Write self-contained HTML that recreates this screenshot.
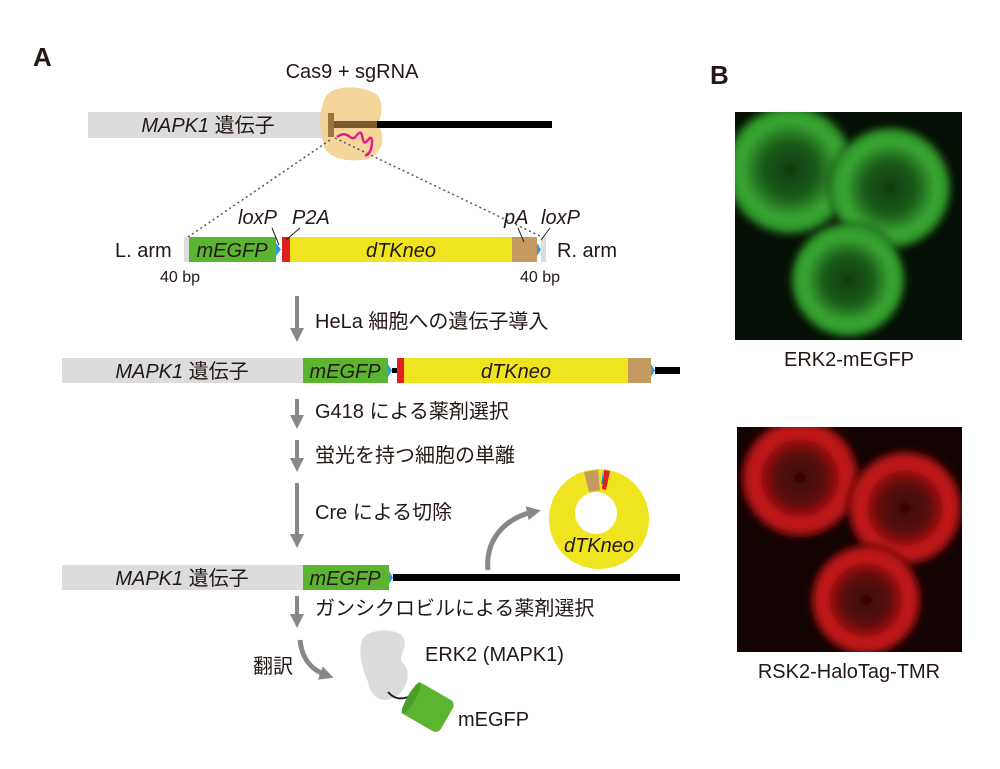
<!DOCTYPE html>
<html><head><meta charset="utf-8"><style>
body{margin:0;background:#fff}
svg text{font-family:"Liberation Sans","Noto Sans CJK JP",sans-serif;fill:#231815}
</style></head><body>
<svg width="1000" height="764" viewBox="0 0 1000 764" xmlns="http://www.w3.org/2000/svg">
<defs>
<marker id="ah" markerWidth="16" markerHeight="16" refX="6" refY="8" orient="auto" markerUnits="userSpaceOnUse" viewBox="0 0 16 16"><path d="M0,1 L14,8 L0,15 z" fill="#888"/></marker>
<radialGradient id="gc"><stop offset="0" stop-color="#0f3c0f"/><stop offset="0.4" stop-color="#1a5c18"/><stop offset="0.7" stop-color="#3aa833"/><stop offset="0.85" stop-color="#2e9428"/><stop offset="1" stop-color="#0a1a08" stop-opacity="0"/></radialGradient>
<radialGradient id="rc"><stop offset="0" stop-color="#3a0606"/><stop offset="0.4" stop-color="#5a0808"/><stop offset="0.7" stop-color="#c81616"/><stop offset="0.85" stop-color="#a81212"/><stop offset="1" stop-color="#200404" stop-opacity="0"/></radialGradient>
<filter id="bl"><feGaussianBlur stdDeviation="3"/></filter>
<filter id="nz" x="0" y="0" width="1" height="1"><feTurbulence type="fractalNoise" baseFrequency="0.5" numOctaves="2" seed="3"/><feColorMatrix values="0 0 0 0 0  0 0 0 0 0  0 0 0 0 0  0 0 0 0.35 0"/><feComposite in2="SourceGraphic" operator="in"/><feMerge><feMergeNode in="SourceGraphic"/><feMergeNode/></feMerge></filter>
<clipPath id="cg"><rect x="735" y="112" width="227" height="228"/></clipPath>
<clipPath id="cr"><rect x="737" y="427" width="225" height="225"/></clipPath>
</defs>

<text x="33" y="66" font-size="26" font-weight="bold">A</text>
<text x="710" y="84" font-size="26" font-weight="bold">B</text>

<!-- top gene -->
<text x="352" y="78" font-size="20" text-anchor="middle">Cas9 + sgRNA</text>
<rect x="88" y="112" width="244" height="26" fill="#dcdcdc"/>
<text x="208" y="132" font-size="20" text-anchor="middle"><tspan font-style="italic">MAPK1</tspan> 遺伝子</text>
<path d="M325,98 C330,85 360,85 372,92 C385,96 382,115 378,125 C388,140 380,160 360,160 C340,162 322,155 323,140 C318,125 320,110 325,98z" fill="#f5d08f" opacity="0.9"/>
<rect x="330" y="121" width="222" height="7" fill="#000"/>
<rect x="332" y="121" width="45" height="7" fill="#7a5a2a"/>
<rect x="328" y="113" width="6" height="24" fill="#9a7540"/>
<path d="M337,137 C350,128 350,145 357,135 C365,125 360,150 368,140 C375,130 372,158 365,155" stroke="#e0208a" stroke-width="2.5" fill="none"/>
<line x1="330" y1="140" x2="188" y2="237" stroke="#555" stroke-width="1.5" stroke-dasharray="2,3"/>
<line x1="335" y1="138" x2="542" y2="237" stroke="#555" stroke-width="1.5" stroke-dasharray="2,3"/>

<!-- donor -->
<text x="115" y="257" font-size="20">L. arm</text>
<rect x="184" y="237" width="5" height="25" fill="#ddd"/>
<rect x="189" y="237" width="87" height="25" fill="#5cb530"/>
<text x="232" y="257" font-size="20" font-style="italic" text-anchor="middle">mEGFP</text>
<path d="M276,243 L281,249.5 L276,256z" fill="#2a9ee0"/>
<rect x="282" y="237" width="8" height="25" fill="#e02020"/>
<rect x="290" y="237" width="222" height="25" fill="#f0e420"/>
<text x="401" y="257" font-size="20" font-style="italic" text-anchor="middle">dTKneo</text>
<rect x="512" y="237" width="25" height="25" fill="#c59a60"/>
<path d="M537,243 L541,249.5 L537,256z" fill="#2a9ee0"/>
<rect x="541" y="237" width="5" height="25" fill="#ddd"/>
<text x="557" y="257" font-size="20">R. arm</text>
<text x="160" y="282" font-size="16">40 bp</text>
<text x="520" y="282" font-size="16">40 bp</text>
<text x="238" y="224" font-size="20" font-style="italic">loxP</text>
<text x="292" y="224" font-size="20" font-style="italic">P2A</text>
<text x="504" y="224" font-size="20" font-style="italic">pA</text>
<text x="541" y="224" font-size="20" font-style="italic">loxP</text>
<line x1="272" y1="228" x2="279" y2="245" stroke="#222" stroke-width="1"/>
<line x1="300" y1="228" x2="286" y2="240" stroke="#222" stroke-width="1"/>
<line x1="518" y1="228" x2="524" y2="242" stroke="#222" stroke-width="1"/>
<line x1="550" y1="228" x2="541" y2="240" stroke="#222" stroke-width="1"/>

<!-- arrows & steps -->
<g stroke="#888" stroke-width="4" marker-end="url(#ah)">
<line x1="297" y1="296" x2="297" y2="334"/>
<line x1="297" y1="399" x2="297" y2="421"/>
<line x1="297" y1="440" x2="297" y2="464"/>
<line x1="297" y1="483" x2="297" y2="540"/>
<line x1="297" y1="596" x2="297" y2="620"/>
</g>
<text x="315" y="328" font-size="20">HeLa 細胞への遺伝子導入</text>
<text x="315" y="418" font-size="20">G418 による薬剤選択</text>
<text x="315" y="462" font-size="20">蛍光を持つ細胞の単離</text>
<text x="315" y="519" font-size="20">Cre による切除</text>
<text x="315" y="615" font-size="20">ガンシクロビルによる薬剤選択</text>

<!-- row2 -->
<rect x="62" y="358" width="241" height="25" fill="#dcdcdc"/>
<text x="182" y="378" font-size="20" text-anchor="middle"><tspan font-style="italic">MAPK1</tspan> 遺伝子</text>
<rect x="303" y="358" width="85" height="25" fill="#5cb530"/>
<text x="345" y="378" font-size="20" font-style="italic" text-anchor="middle">mEGFP</text>
<path d="M388,364 L392,370.5 L388,377z" fill="#2a9ee0"/>
<rect x="392" y="368" width="5" height="5" fill="#000"/>
<rect x="397" y="358" width="7" height="25" fill="#e02020"/>
<rect x="404" y="358" width="224" height="25" fill="#f0e420"/>
<text x="516" y="378" font-size="20" font-style="italic" text-anchor="middle">dTKneo</text>
<rect x="628" y="358" width="23" height="25" fill="#c59a60"/>
<path d="M651,364 L655,370.5 L651,377z" fill="#2a9ee0"/>
<rect x="655" y="367" width="25" height="7" fill="#000"/>

<!-- row3 -->
<rect x="62" y="565" width="241" height="25" fill="#dcdcdc"/>
<text x="182" y="585" font-size="20" text-anchor="middle"><tspan font-style="italic">MAPK1</tspan> 遺伝子</text>
<rect x="303" y="565" width="86" height="25" fill="#5cb530"/>
<text x="345" y="585" font-size="20" font-style="italic" text-anchor="middle">mEGFP</text>
<path d="M389,571 L393,577.5 L389,584z" fill="#2a9ee0"/>
<rect x="393" y="574" width="287" height="7" fill="#000"/>

<!-- ring -->
<path d="M488,570 C485,540 505,518 533,512" stroke="#888" stroke-width="5" fill="none" marker-end="url(#ah)"/>
<circle cx="599" cy="519" r="50" fill="#f0e420"/>
<path d="M584,472 L598,470 L600,490 L589,492z" fill="#c59a60"/>
<path d="M603,471 L601,484 L603,484z" fill="#2a9ee0"/>
<path d="M604,470 L610,471 L606,490 L602,489z" fill="#e02020"/>
<circle cx="596" cy="513" r="21" fill="#fff"/>
<text x="599" y="552" font-size="20" font-style="italic" text-anchor="middle">dTKneo</text>

<!-- translation -->
<text x="253" y="673" font-size="20">翻訳</text>
<path d="M300,640 C302,660 312,670 326,675" stroke="#888" stroke-width="5" fill="none" marker-end="url(#ah)"/>
<path d="M362,640 C368,628 395,628 402,636 C410,645 398,655 402,662 C412,670 408,690 395,697 C380,705 370,695 368,682 C362,668 358,652 362,640z" fill="#dcdcdc"/>
<path d="M388,692 C395,700 402,700 414,695" stroke="#222" stroke-width="2" fill="none"/>
<g transform="rotate(30 427 707)"><rect x="406" y="689" width="44" height="36" rx="6" fill="#5cb530"/><ellipse cx="409" cy="707" rx="4" ry="18" fill="#4a9e28"/></g>
<text x="425" y="661" font-size="20">ERK2 (MAPK1)</text>
<text x="458" y="726" font-size="20">mEGFP</text>

<!-- panel B -->
<rect x="735" y="112" width="227" height="228" fill="#061006"/>
<g clip-path="url(#cg)"><g filter="url(#bl)">
<circle cx="790" cy="170" r="70" fill="url(#gc)"/>
<circle cx="890" cy="188" r="66" fill="url(#gc)"/>
<circle cx="848" cy="280" r="62" fill="url(#gc)"/>
</g></g>
<text x="849" y="366" font-size="20" text-anchor="middle">ERK2-mEGFP</text>
<rect x="737" y="427" width="225" height="225" fill="#130303"/>
<g clip-path="url(#cr)"><g filter="url(#bl)">
<circle cx="800" cy="478" r="64" fill="url(#rc)"/>
<circle cx="905" cy="508" r="62" fill="url(#rc)"/>
<circle cx="866" cy="600" r="60" fill="url(#rc)"/>
</g></g>
<text x="849" y="678" font-size="20" text-anchor="middle">RSK2-HaloTag-TMR</text>
</svg>
</body></html>
